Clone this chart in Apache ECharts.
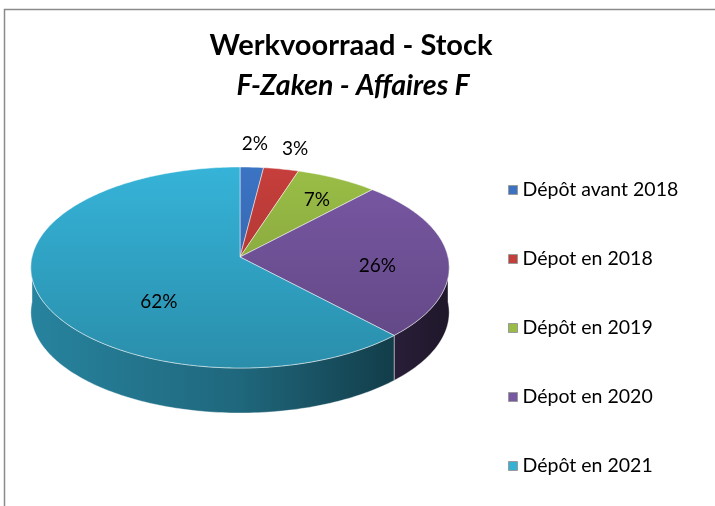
<!DOCTYPE html>
<html>
<head>
<meta charset="utf-8">
<script src="https://cdn.jsdelivr.net/npm/echarts@6/dist/echarts.min.js"></script>
<style>html,body{margin:0;padding:0;background:#fff}#main{width:715px;height:506px}</style>
</head>
<body>
<div id="main"></div>
<script>
var categories = ['Dépôt avant 2018', 'Dépot en 2018', 'Dépôt en 2019', 'Dépot en 2020', 'Dépôt en 2021'];
var values = [2, 3, 7, 26, 62];
var colors = ['#3b73c2', '#c43e3b', '#99bc46', '#7857a3', '#35b1d6'];

var titleText = 'Werkvoorraad - Stock';
var subtitleText = 'F-Zaken - Affaires F';

// geometry of the tilted pie (Excel 3d look)
var cx = 240, cy = 257, rx = 208, ry = 99.4, persp = 0.1045, depth = 45;
var labelNudge = [[0, 0], [3, 3], [9, -2], [-4, 9], [54, 19]];
var font = 'Lato';

var total = values.reduce(function (s, v) { return s + v; }, 0);
var starts = [];
var acc = 0;
values.forEach(function (v) { starts.push(acc); acc += v; });

// multiply rgb by f (f < 1 darkens)
function shade(hex, f) {
    var n = parseInt(hex.slice(1), 16);
    var r = Math.min(255, Math.round((n >> 16) * f));
    var g = Math.min(255, Math.round(((n >> 8) & 255) * f));
    var b = Math.min(255, Math.round((n & 255) * f));
    return 'rgb(' + r + ',' + g + ',' + b + ')';
}

// angle measured clockwise from 12 o'clock, r = fraction of radius
function proj(ang, r) {
    var u = Math.sin(ang) * r, v = -Math.cos(ang) * r;
    var w = 1 - persp * v;
    return [cx + rx * u / w, cy + ry * v / w];
}

function arc(a0, a1, r, dy) {
    var pts = [];
    var n = Math.max(2, Math.ceil((a1 - a0) / (Math.PI / 180)));
    for (var i = 0; i <= n; i++) {
        var p = proj(a0 + (a1 - a0) * i / n, r);
        pts.push([p[0], p[1] + dy]);
    }
    return pts;
}

function renderSlice(params, api) {
    var i = params.dataIndex;
    var val = api.value(0);
    var a0 = starts[i] / total * Math.PI * 2;
    var a1 = (starts[i] + val) / total * Math.PI * 2;
    var col = colors[i];
    var children = [];

    // outer wall, front half only
    var w0 = Math.max(a0, Math.PI / 2), w1 = Math.min(a1, Math.PI * 1.5);
    if (w1 > w0) {
        var topEdge = arc(w0, w1, 1, 0);
        var botEdge = arc(w0, w1, 1, depth).reverse();
        children.push({
            type: 'polygon',
            shape: { points: topEdge.concat(botEdge) },
            style: {
                fill: new echarts.graphic.LinearGradient(cx - rx, 0, cx + rx, 0, [
                    { offset: 0, color: shade(col, 0.74) },
                    { offset: 0.5, color: shade(col, 0.58) },
                    { offset: 1, color: shade(col, 0.26) }
                ], true),
                stroke: 'rgba(255,255,255,0.5)',
                lineWidth: 0.8
            },
            z2: 1
        });
    }

    // top face
    children.push({
        type: 'polygon',
        shape: { points: [[cx, cy]].concat(arc(a0, a1, 1, 0)) },
        style: {
            fill: new echarts.graphic.LinearGradient(0, cy - ry, 0, cy + ry * 1.1, [
                { offset: 0, color: shade(col, 1.02) },
                { offset: 1, color: shade(col, 0.8) }
            ], true),
            stroke: 'rgba(255,255,255,0.6)',
            lineWidth: 0.8
        },
        z2: 10
    });

    var pct = Math.round(val / total * 100);
    var lp = proj((a0 + a1) / 2, pct < 5 ? 1.3 : 0.68);
    children.push({
        type: 'text',
        x: lp[0] + labelNudge[i][0],
        y: lp[1] + labelNudge[i][1],
        style: {
            text: pct + '%',
            fontSize: 19,
            fontFamily: font,
            fill: '#000',
            align: 'center',
            verticalAlign: 'middle',
            textAlign: 'center',
            textVerticalAlign: 'middle'
        },
        z2: 20
    });

    return { type: 'group', children: children };
}

var pieData = categories.map(function (c, i) {
    return { name: c, value: values[i] };
});

var myChart = echarts.init(document.getElementById('main'));
var option = {
    backgroundColor: '#fff',
    color: colors,
    animation: false,
    legend: {
        orient: 'vertical',
        left: 503,
        top: 175,
        icon: 'rect',
        itemWidth: 9,
        itemHeight: 9,
        itemGap: 49,
        selectedMode: false,
        itemStyle: { borderColor: '#9a9a9a', borderWidth: 1 },
        textStyle: { fontSize: 19.5, fontFamily: font, color: '#000', lineHeight: 20 },
        data: categories
    },
    graphic: [{
        type: 'rect',
        shape: { x: 4.5, y: 9.5, width: 760, height: 560 },
        style: { fill: 'none', stroke: '#8a8a8a', lineWidth: 1.5 },
        silent: true
    }, {
        type: 'text',
        x: 351,
        y: 46,
        style: {
            text: titleText, fontSize: 29, fontWeight: 'bold', fontFamily: font, fill: '#000',
            align: 'center', verticalAlign: 'middle', textAlign: 'center', textVerticalAlign: 'middle'
        }
    }, {
        type: 'text',
        x: 353,
        y: 86,
        style: {
            text: subtitleText, fontSize: 28.5, fontWeight: 'bold', fontStyle: 'italic', fontFamily: font, fill: '#000',
            align: 'center', verticalAlign: 'middle', textAlign: 'center', textVerticalAlign: 'middle'
        }
    }],
    series: [{
        type: 'custom',
        coordinateSystem: 'none',
        renderItem: renderSlice,
        data: pieData
    }, {
        // only feeds the legend
        type: 'pie',
        radius: 0,
        center: [-50, -50],
        silent: true,
        label: { show: false },
        labelLine: { show: false },
        data: pieData
    }]
};
myChart.setOption(option);
</script>
</body>
</html>
